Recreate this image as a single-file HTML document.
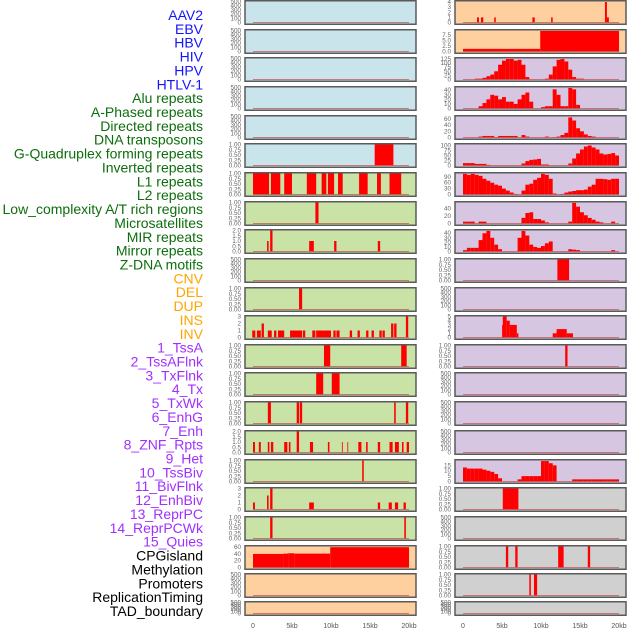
<!DOCTYPE html>
<html><head><meta charset="utf-8"><style>
html,body{margin:0;padding:0;background:#fff;}
svg{display:block;font-family:"Liberation Sans",sans-serif;}
</style></head><body>
<svg id="chart" width="630" height="630" viewBox="0 0 630 630" xmlns="http://www.w3.org/2000/svg">
<g id="labels"></g>
<g id="panels"></g>
<g id="xaxes"></g>
</svg>
<script>
// ---- track labels ----
const labelNames = ["AAV2","EBV","HBV","HIV","HPV","HTLV-1",
"Alu repeats","A-Phased repeats","Directed repeats","DNA transposons","G-Quadruplex forming repeats","Inverted repeats","L1 repeats","L2 repeats","Low_complexity A/T rich regions","Microsatellites","MIR repeats","Mirror repeats","Z-DNA motifs",
"CNV","DEL","DUP","INS","INV",
"1_TssA","2_TssAFlnk","3_TxFlnk","4_Tx","5_TxWk","6_EnhG","7_Enh","8_ZNF_Rpts","9_Het","10_TssBiv","11_BivFlnk","12_EnhBiv","13_ReprPC","14_ReprPCWk","15_Quies",
"CPGisland","Methylation","Promoters","ReplicationTiming","TAD_boundary"];
const labelGroups = [6,13,5,15,5];
const groupColors = ["#1414ff","#0c6e0c","#ffa500","#a030ff","#000000"];

// ---- x axis ----
const xTicks = [0,5,10,15,20];
const xTickLabels = ["0","5kb","10kb","15kb","20kb"];

// ---- tick sets ----
const ticksEmpty = [0,100,200,300,400,500];
const ticksOne = [0,0.25,0.5,0.75,1];
const ticksTwo = [0,0.5,1,1.5,2];
const ticksThree = [0,1,2,3];

// ---- left column bar data [startKb, endKb, value] ----
const leftBars5 = [[15.6,18.0,1]];
const leftBars6 = [[0,2.05,1],[2.3,3.5,1],[4.0,5.0,1],[6.9,8.1,1],[8.8,9.4,1],[9.6,10.4,1],[10.9,11.5,1],[13.6,14.7,1],[15.9,16.4,1],[17.5,19.0,1]];
const leftBars7 = [[8.0,8.4,1]];
const leftBars8 = [[1.8,2.0,1],[2.2,2.5,2],[7.2,7.8,1],[10.4,10.7,1],[16.0,16.3,1]];
const leftBars10 = [[5.9,6.3,1]];
const leftBars11 = [[-0.1,0.3,1],[0.5,1.0,1],[1.1,1.4,2],[1.9,2.4,1],[2.7,3.0,1],[3.2,4.0,1],[4.75,6.3,1],[6.4,6.7,1],[7.6,8.0,1],[8.1,9.1,1],[9.1,10.0,1],[10.3,10.6,1],[10.7,11.1,1],[12.4,12.7,1],[13.4,13.7,1],[14.5,14.8,1],[15.2,15.5,1],[16.2,16.5,1],[16.6,16.9,1],[17.7,18.0,2],[18.1,18.4,2],[19.6,19.9,3]];
const leftBars12 = [[9.1,9.9,1],[19.0,19.7,1]];
const leftBars13 = [[8.1,9.0,1],[10.1,11.1,1]];
const leftBars14 = [[1.9,2.3,1],[5.6,5.9,1],[6.0,6.3,1],[18.1,18.3,1],[19.6,19.9,1]];
const leftBars15 = [[0,0.25,1],[0.75,1.0,1],[1.9,2.1,1],[2.3,2.6,1],[4.0,4.4,1],[4.6,4.8,1],[5.6,5.9,2],[7.3,7.7,1],[9.6,9.8,1],[11.4,11.5,1],[12.1,12.2,1],[13.5,13.9,1],[14.5,14.7,1],[16.0,16.3,1],[17.5,17.9,1],[18.2,18.7,1],[19.1,19.3,1],[19.7,20.0,1]];
const leftBars16 = [[14.0,14.2,1]];
const leftBars17 = [[0,0.25,1],[1.8,2.0,2],[2.2,2.5,3],[7.2,7.8,1],[16.0,16.3,1],[17.4,17.8,1],[18.2,18.6,1],[19.3,19.6,1]];
const leftBars18 = [[2.2,2.5,1],[19.4,19.6,1]];
const leftBars19 = [[0,3.9,40],[3.9,4.5,41],[4.5,5.3,42],[5.3,9.9,41],[9.9,20,60]];

// ---- right column bar data ----
const rightBars0 = [[1.8,2.05,1],[2.3,2.6,1],[4.0,4.2,1],[8.9,9.2,1],[11.3,11.5,1],[18.2,18.45,4],[18.45,18.7,1]];
const rightBars1 = [[0,9.9,1.2],[9.9,20,9.3]];
const rightBars9 = [[12.1,13.6,1]];
const rightBars11 = [[5.0,5.1,3],[5.1,5.6,5],[5.6,6.0,4],[6.0,6.9,3],[6.9,7.1,1],[11.5,12.0,1],[12.0,13.3,2],[13.3,14.1,1]];
const rightBars12 = [[13.1,13.4,1]];
const rightBars17 = [[5.1,7.1,1]];
const rightBars19 = [[5.5,5.8,1],[6.7,7.0,1],[12.2,12.9,1],[16.0,16.3,1]];
const rightBars20 = [[8.5,8.7,1],[9.1,9.5,1]];

// ---- right column histograms (0.5kb bins, 0..20kb) ----
const hivBins = [0,0,0,5,5,10,20,30,50,90,115,125,125,115,120,90,15,0,0,0,0,5,30,80,120,125,110,60,15,5,5,0,0,0,0,0,0,0,0,0];
const hpvBins = [0,0,0,0,5,12,20,30,28,20,25,15,15,10,20,30,35,15,0,0,3,5,5,42,30,5,5,45,42,8,0,0,0,0,0,0,0,0,0,0];
const htlvBins = [0,0,0,0,3,5,5,5,1,5,5,5,5,5,0,8,3,0,0,0,0,3,0,1,3,8,15,65,55,30,20,10,5,3,0,0,0,0,0,0];
const gquadBins = [12,12,12,8,8,8,3,0,0,0,0,0,0,0,0,10,22,28,30,33,5,5,0,0,0,0,0,10,35,60,80,95,100,90,80,60,55,58,62,50];
const l1Bins = [105,100,105,100,95,80,70,60,50,45,30,20,10,3,0,20,50,55,75,85,105,100,80,5,0,3,10,15,18,22,22,25,40,50,80,80,78,75,80,80];
const lowcBins = [5,5,5,0,5,5,0,0,0,0,0,0,0,0,0,15,28,30,12,12,8,3,0,0,0,0,0,5,55,45,30,22,15,10,5,3,0,0,5,0];
const mirrorBins = [3,8,8,8,25,40,45,30,15,5,0,0,0,0,30,45,35,15,10,8,12,18,22,0,0,0,0,5,4,3,0,0,0,0,0,0,0,0,3,0];
const hetBins = [13,12,12,12,12,11,10,9,7,3,0,0,0,0,2,5,5,5,5,5,19,19,17,15,0,0,0,0,2,2,2,2,2,2,2,2,2,2,2,2];

// ---- layout ----
const rowTops = [0,29,57,86,115,143,172,201,229,258,287,315,344,372,401,430,459,487,516,545,573,601];
const colX = [245,455];
const panelW = 171, kbPx = 7.8, kbOrigin = 8;
const BLUE="#c9e4ea", GREEN="#c9e2a6", ORANGE="#ffd09f", PURPLE="#d6c6e2", GRAY="#d0d0d0";

function leftBg(r){return r<=5?BLUE:(r<=18?GREEN:ORANGE);}
function rightBg(r){return r<=1?ORANGE:(r<=16?PURPLE:GRAY);}

const leftSpec = {5:[leftBars5,ticksOne,1],6:[leftBars6,ticksOne,1],7:[leftBars7,ticksOne,1],8:[leftBars8,ticksTwo,2],
10:[leftBars10,ticksOne,1],11:[leftBars11,ticksThree,3],12:[leftBars12,ticksOne,1],13:[leftBars13,ticksOne,1],14:[leftBars14,ticksOne,1],
15:[leftBars15,ticksTwo,2],16:[leftBars16,ticksOne,1],17:[leftBars17,ticksThree,3],18:[leftBars18,ticksOne,1],19:[leftBars19,[0,20,40,60],62]};
const rightSpec = {0:[rightBars0,[0,1,2,3,4],4.1],1:[rightBars1,[0,2.5,5,7.5],9.5],
2:[hivBins,[0,25,50,75,100,125],128,"bins"],3:[hpvBins,[0,10,20,30,40],46,"bins"],4:[htlvBins,[0,20,40,60],68,"bins"],
5:[gquadBins,[0,25,50,75,100],105,"bins"],6:[l1Bins,[0,30,60,90],107,"bins"],7:[lowcBins,[0,20,40],56,"bins"],
8:[mirrorBins,[0,10,20,30,40],46,"bins"],9:[rightBars9,ticksOne,1],11:[rightBars11,[0,1,2,3,4,5],5],12:[rightBars12,ticksOne,1],
16:[hetBins,[0,5,10,15],19.5,"bins"],17:[rightBars17,ticksOne,1],19:[rightBars19,ticksOne,1],20:[rightBars20,ticksOne,1]};

const NS="http://www.w3.org/2000/svg";
function mk(tag,attrs,parent){const e=document.createElementNS(NS,tag);for(const k in attrs)e.setAttribute(k,attrs[k]);parent.appendChild(e);return e;}

// labels
const lg=document.getElementById('labels');
let li=0;
labelGroups.forEach((n,gi)=>{for(let j=0;j<n;j++){
  const t=mk('text',{x:203,y:15+li*13.86,'text-anchor':'end','dominant-baseline':'central','font-size':14,fill:groupColors[gi]},lg);
  t.textContent=labelNames[li];
  
  
  li++;}});

function fmt(v,ticks){const dec=ticks.some(t=>t%1!==0 && (t*2)%1!==0)?2:(ticks.some(t=>t%1!==0)?1:0);
  if(ticks===ticksOne) return v.toFixed(2);
  return v.toFixed(dec);}

const pg=document.getElementById('panels');
function drawPanel(col,r){
  const x0=colX[col], top=rowTops[r], h=(r===21?15:25);
  const bg = col===0?leftBg(r):rightBg(r);
  const spec = (col===0?leftSpec:rightSpec)[r];
  const g=mk('g',{},pg);
  
  
  const rect=mk('rect',{x:x0,y:top+0.75,width:panelW,height:h-1.5,fill:bg,stroke:'#5a5a5a','stroke-width':1.5},g);
  
  
  const y0=top+h-2.5, y1=top+1.5;
  const ticks = spec?spec[1]:ticksEmpty, ymax = spec?spec[2]:500;
  const ys=v=>y0-(v/ymax)*(y0-y1);
  const xs=kb=>x0+kbOrigin+kb*kbPx;
  ticks.forEach(tv=>{
    const t=mk('text',{x:x0-4,y:ys(tv)+2,'text-anchor':'end','font-size':6.3,fill:'#666'},g);
    t.textContent = spec?fmt(tv,ticks):String(tv);
    
    
  });
  if(spec){
    const segs = spec[3]==="bins" ? spec[0].map((v,i)=>[i*0.5,i*0.5+0.5,v]) : spec[0];
    segs.forEach(s=>{ if(s[2]<=0) return;
      const b=mk('rect',{x:xs(s[0]),y:ys(s[2]),width:Math.max(0.8,xs(s[1])-xs(s[0])),height:y0-ys(s[2]),fill:'#ff0000'},g);
      
      
    });
  }
  const bl=mk('line',{x1:xs(0),x2:xs(20),y1:y0,y2:y0,stroke:'#c05050','stroke-width':1,'stroke-opacity':0.7},g);
  
  
}
for(let r=0;r<rowTops.length;r++){drawPanel(0,r);drawPanel(1,r);}

const xg=document.getElementById('xaxes');
[0,1].forEach(c=>{xTicks.forEach((kb,i)=>{
  const t=mk('text',{x:colX[c]+kbOrigin+kb*kbPx,y:628,'text-anchor':'middle','font-size':7,fill:'#555'},xg);
  t.textContent=xTickLabels[i];
  
  
});});
</script>
</body></html>
